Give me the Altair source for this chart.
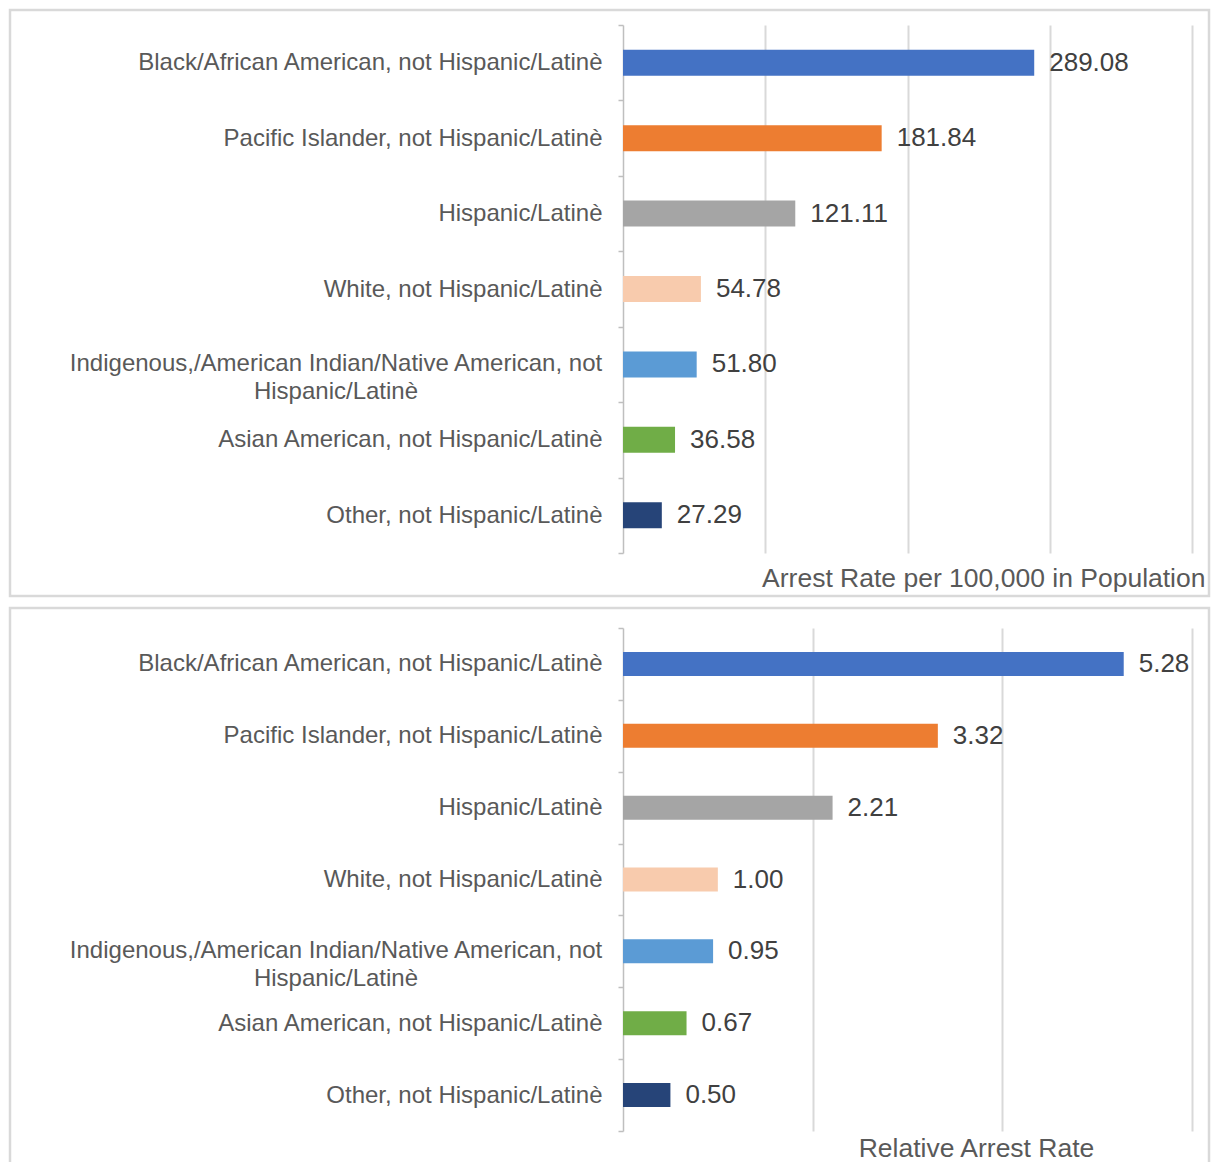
import altair as alt
import pandas as pd

categories = [
    "Black/African American, not Hispanic/Latinè",
    "Pacific Islander, not Hispanic/Latinè",
    "Hispanic/Latinè",
    "White, not Hispanic/Latinè",
    "Indigenous,/American Indian/Native American, not\nHispanic/Latinè",
    "Asian American, not Hispanic/Latinè",
    "Other, not Hispanic/Latinè",
]
arrest_rate = [289.08, 181.84, 121.11, 54.78, 51.80, 36.58, 27.29]
relative_rate = [5.28, 3.32, 2.21, 1.00, 0.95, 0.67, 0.50]
colors = ["#4472C4", "#ED7D31", "#A5A5A5", "#F8CBAD", "#5B9BD5", "#70AD47", "#264478"]

FONT = "Liberation Sans"
LABEL_SIZE = 24
VALUE_SIZE = 26
TITLE_SIZE = 26.5


def panel(values, xmax, grid_vals, title, title_x, title_y, title_align, height, bar_size, rect_y, rect_y2):
    df = pd.DataFrame({"cat": categories, "val": values})
    y_scale = alt.Scale(domain=categories, paddingInner=0, paddingOuter=0)
    y = alt.Y(
        "cat:N",
        sort=categories,
        scale=y_scale,
        axis=alt.Axis(
            title=None,
            labelExpr="(!isValid(datum.value) || indexof(datum.value, '\\n') >= 0) ? '' : datum.value",
            labelFont=FONT,
            labelFontSize=LABEL_SIZE,
            labelColor="#595959",
            labelLimit=700,
            labelPadding=16,
            tickSize=5,
            tickBand="extent",
            tickColor="#bfbfbf",
            tickWidth=1.5,
            domainColor="#bfbfbf",
            domainWidth=1.5,
            grid=False,
        ),
    )
    x = alt.X(
        "val:Q",
        scale=alt.Scale(domain=[0, xmax], nice=False),
        axis=alt.Axis(
            title=title,
            values=grid_vals,
            labels=False,
            ticks=False,
            domain=False,
            grid=True,
            gridColor="#d9d9d9",
            gridWidth=2,
            titleFont=FONT,
            titleFontSize=TITLE_SIZE,
            titleFontWeight="normal",
            titleColor="#595959",
            titleX=title_x,
            titleY=title_y,
            titleAlign=title_align,
            titleBaseline="middle",
        ),
    )
    base = alt.Chart(df)
    bars = base.mark_bar(size=bar_size).encode(
        x=x,
        y=y,
        color=alt.Color("cat:N", scale=alt.Scale(domain=categories, range=colors), legend=None),
    )
    text = base.mark_text(
        align="left", baseline="middle", dx=15, font=FONT, fontSize=VALUE_SIZE, color="#404040"
    ).encode(
        x="val:Q",
        y=alt.Y("cat:N", sort=categories),
        text=alt.Text("val:Q", format=".2f"),
    )
    # wrapped, centre-aligned category label (as in the original)
    wrapped = base.transform_filter(
        "indexof(datum.cat, '\\n') >= 0"
    ).mark_text(
        align="center", baseline="middle", lineBreak="\n", lineHeight=28,
        font=FONT, fontSize=LABEL_SIZE, color="#595959"
    ).encode(
        x=alt.value(-287),
        y=alt.Y("cat:N", sort=categories),
        text="cat:N",
    )
    border = alt.Chart(pd.DataFrame({"a": [0]})).mark_rect(
        filled=False, stroke="#d9d9d9", strokeWidth=2.5
    ).encode(
        x=alt.value(-613), x2=alt.value(586), y=alt.value(rect_y), y2=alt.value(rect_y2)
    )
    return alt.layer(border, bars, text, wrapped).properties(width=569, height=height)


top = panel(arrest_rate, 400, [100, 200, 300, 400],
            "Arrest Rate per 100,000 in Population", 582, 25, "right", 528, 26, -15, 571)
bottom = panel(relative_rate, 6, [2, 4, 6],
               "Relative Arrest Rate", 353, 17, "center", 503, 24, -20, 540)

chart = alt.vconcat(top, bottom, spacing=75, bounds="flush").properties(
    padding={"left": 0, "top": 0, "right": 0, "bottom": -8}
).configure_view(stroke=None)

chart.save("out.html", embed_options={"renderer": "svg", "actions": False})
